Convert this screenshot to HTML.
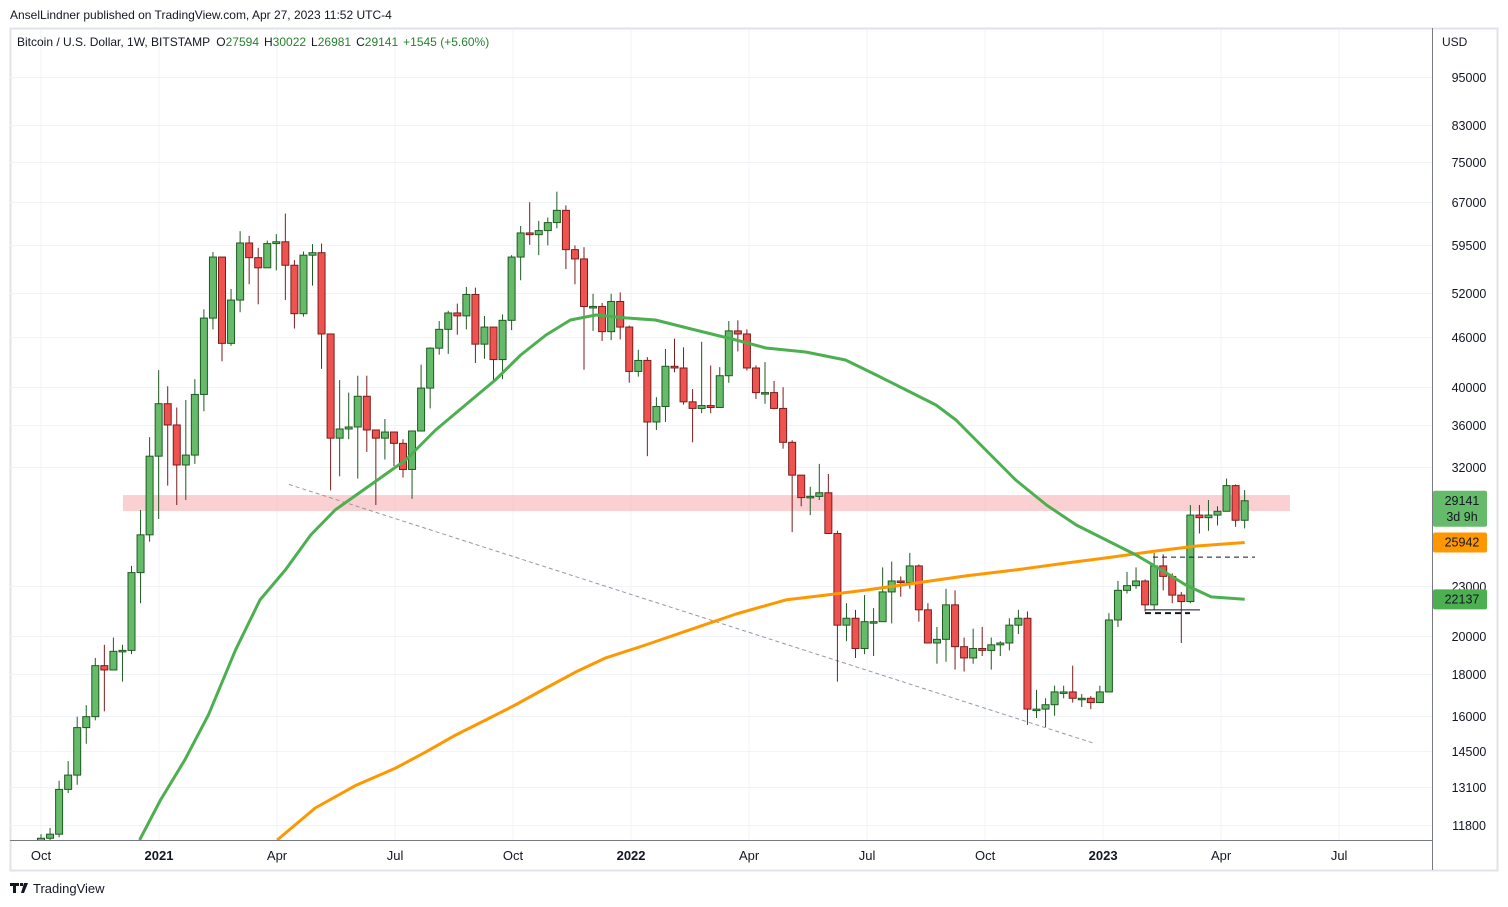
<!DOCTYPE html>
<html><head><meta charset="utf-8"><style>
html,body{margin:0;padding:0;background:#fff;width:1508px;height:907px;overflow:hidden;font-family:"Liberation Sans",sans-serif;}
svg text{font-family:"Liberation Sans",sans-serif;}
</style></head><body>
<svg id="c" width="1508" height="907" xmlns="http://www.w3.org/2000/svg">
<text x="10" y="19" font-size="12" fill="#131722">AnselLindner published on TradingView.com, Apr 27, 2023 11:52 UTC-4</text>
<rect x="10.5" y="28.5" width="1487" height="842" fill="none" stroke="#e0e3eb" stroke-width="2"/>
<g id="grid"></g>
<g id="marks"></g>
<line x1="1432.5" y1="28" x2="1432.5" y2="870" stroke="#787b86"/>
<line x1="10" y1="840.5" x2="1432" y2="840.5" stroke="#787b86"/>
<text x="17" y="46" font-size="12" fill="#131722">Bitcoin / U.S. Dollar, 1W, BITSTAMP <tspan dx="3">O</tspan><tspan fill="#26802f">27594</tspan><tspan dx="5">H</tspan><tspan fill="#26802f">30022</tspan><tspan dx="5">L</tspan><tspan fill="#26802f">26981</tspan><tspan dx="5">C</tspan><tspan fill="#26802f">29141</tspan><tspan dx="5" fill="#26802f">+1545 (+5.60%)</tspan></text>
<text x="1442" y="46" font-size="12" fill="#131722">USD</text>
<g id="axes"></g>
<g transform="translate(10,883)">
<path d="M0 0h9v3h-3v7h-3v-7h-3z M10 0h3v3h-3z M14 0h4l-4 10h-3z" fill="#131722"/>
<text x="23" y="10" font-size="13" fill="#131722">TradingView</text>
</g>
</svg>
<script>
// weekly candles starting week of 2020-10-05
const opens0 = 10670;
const closes = [11370,11500,13030,13560,15480,15960,18400,18180,19150,19200,23850,26500,33000,
38200,36000,32200,33100,39200,48500,57500,45200,51000,59800,57400,55800,59700,60000,56200,49100,57800,58200,46400,34700,35600,35800,39000,35500,34700,35300,34200,31800,35400,39900,44600,47000,49200,48800,51800,45100,47300,43200,48200,57500,61500,61200,61900,63300,65500,58700,57200,50100,50100,46700,50800,47300,
41800,43100,36300,37900,42400,42200,38400,37700,38000,37800,41300,46800,46400,42200,39400,39400,37700,34300,31300,29400,29500,29800,26600,20600,21000,19300,20800,20800,22600,23300,23200,24300,21500,19600,19800,21800,19400,18800,19300,19200,19500,19600,20600,21000,16300,16300,16500,17100,17100,16800,16800,16600,
17100,20900,22700,23000,23300,21800,24300,23600,22400,22000,28000,27800,28000,28300,30400,27600,29141];
const highs = [11500,11700,13350,14100,15960,16480,18800,19500,19900,19500,24300,28400,34800,
41950,40100,37800,38600,40900,49700,58300,57000,52600,61800,61000,59000,60200,61300,64900,57000,58400,59600,59700,45900,40800,39400,41300,41300,35500,36600,35000,34600,35400,42600,44700,48100,49500,50500,52900,52800,48800,45500,49000,57800,62700,67000,63600,64200,69000,66400,59400,59100,51900,50600,51900,52100,
47500,44400,43500,38900,44500,45800,44700,39800,45400,42500,42300,48100,48200,47000,42500,42900,40700,40000,34500,31300,30300,32300,31400,26800,21900,21500,22400,21600,24200,24600,23600,25200,24400,21900,20500,22800,22700,19900,20400,20500,19900,19700,21000,21500,21400,17200,16800,17400,17400,18400,17000,16900,
17400,21300,23300,23900,24200,23400,25200,25100,23800,22600,28800,28800,29200,28700,31000,30500,30022];
const lows = [10530,11200,11400,12900,13200,14800,15800,16200,18200,17600,19000,21900,26000,
27700,30400,28800,29200,32300,37400,47000,43000,44900,49300,53300,50400,56500,55400,51000,47100,48700,53100,42100,30000,31200,34600,31000,33400,28800,32700,32100,31100,29300,35700,37700,43800,43900,46300,47000,42800,43300,40600,40900,46900,53900,59500,57800,59400,62300,55600,53300,42000,46800,45500,45600,45700,
40500,41200,33000,35500,36300,41700,38100,34300,37200,37200,38100,40500,44200,41900,38700,38200,37600,33700,26700,28700,28000,29200,26600,17600,19700,18800,19000,18900,20800,20700,22300,22800,20800,19600,18500,18600,18200,18100,18500,18900,18200,18900,19200,20100,15600,15900,15500,16000,16800,16600,16400,16300,
16600,17300,20500,22500,22800,21400,21500,22700,21900,19600,21900,26600,26800,27200,28300,27100,26981];
// moving averages (week index, value)
const maFastWeeks = [10.9,13.2,15.9,18.5,21.5,24.2,27,29.8,32.5,36.4,40.3,43.6,46.9,50.2,53,55.8,58.5,61.3,64.6,67.9,72.3,76.8,80.1,84.5,88.9,92.3,95.6,98.9,101.1,104.4,107.7,111.1,114.4,117.7,121,123.8,126.5,129.3,133];
const maFastVals = [11315,12650,14150,16040,19230,22100,24030,26490,28400,30450,32650,35500,38060,40810,43760,46270,48240,48920,48520,48240,46910,45630,44620,44130,43150,41380,39690,38060,36500,33570,30880,28800,27240,26120,25050,24030,23040,22290,22137];
const maSlowWeeks = [26.1,30.3,34.7,39.2,42.5,45.8,49.1,52.4,55.8,59.1,62.4,66.8,72.3,76.8,82.3,86.7,91.2,96.7,102.2,107.7,113.3,117.7,123.2,127.7,133];
const maSlowVals = [11315,12370,13160,13830,14460,15160,15810,16490,17290,18080,18800,19490,20440,21250,22100,22400,22720,23170,23630,24030,24500,24850,25330,25690,25942];
const priceTicks = [95000,83000,75000,67000,59500,52000,46000,40000,36000,32000,23000,20000,18000,16000,14500,13100,11800];
const timeLabels = ["Oct","2021","Apr","Jul","Oct","2022","Apr","Jul","Oct","2023","Apr","Jul"];
const timeLabelWeeks = [0,13.04,26.08,39.12,52.16,65.2,78.24,91.28,104.32,117.36,130.4,143.44];
const zoneTop = 29610, zoneBottom = 28320;
const trendStart = [27.4, 30500], trendEnd = [116.5, 14800];
const levelHigh = 24900, levelLow = [21500, 21300];

const NS="http://www.w3.org/2000/svg";
const X0=41, DX=9.05, PLOT_L=10, PLOT_R=1432, PLOT_T=29, PLOT_B=840;
function xs(i){return X0+i*DX;}
function ys(p){return 77+(Math.log(95000)-Math.log(p))*358.6;}
function el(tag,attrs,parent){const e=document.createElementNS(NS,tag);for(const k in attrs)e.setAttribute(k,attrs[k]);parent.appendChild(e);return e;}
const grid=document.getElementById('grid'), marks=document.getElementById('marks'), axes=document.getElementById('axes');

const defs=el('defs',{},document.getElementById('c'));
const cp=el('clipPath',{id:'pc'},defs);
el('rect',{x:PLOT_L,y:PLOT_T,width:PLOT_R-PLOT_L,height:PLOT_B-PLOT_T},cp);
marks.setAttribute('clip-path','url(#pc)');

priceTicks.forEach(p=>{
  const y=Math.round(ys(p))+0.5;
  const g=el('line',{x1:PLOT_L,x2:PLOT_R,y1:y,y2:y,stroke:'#f0f3fa'},grid);
  
  
  const t=el('text',{x:1469,y:y+4.5,'font-size':12.5,fill:'#131722','text-anchor':'middle'},axes);
  t.textContent=p;
  
  
});
timeLabels.forEach((s,k)=>{
  const x=xs(timeLabelWeeks[k]);
  const g=el('line',{x1:x,x2:x,y1:PLOT_T,y2:PLOT_B,stroke:'#f0f3fa'},grid);
  
  
  const bold=/^\d/.test(s);
  const t=el('text',{x:x,y:860,'font-size':13,fill:'#131722','text-anchor':'middle','font-weight':bold?'bold':'normal'},axes);
  t.textContent=s;
  
  
});

const z=el('rect',{x:123,y:ys(zoneTop),width:1167,height:ys(zoneBottom)-ys(zoneTop),fill:'#f7a9ae',opacity:0.55},marks);


const tl=el('line',{x1:xs(trendStart[0]),y1:ys(trendStart[1]),x2:xs(trendEnd[0]),y2:ys(trendEnd[1]),stroke:'#9598a1','stroke-dasharray':'4 3'},marks);



closes.forEach((c,i)=>{
  const o=i===0?opens0:closes[i-1];
  const up=c>=o, x=xs(i);
  const g=el('g',{},marks);
  
  
  const stroke=up?'#1e5a22':'#7a1d1d';
  el('line',{x1:x,x2:x,y1:ys(highs[i]),y2:ys(lows[i]),stroke:stroke,'stroke-width':1},g);
  const yt=ys(Math.max(o,c)), yb=ys(Math.min(o,c));
  el('rect',{x:x-3.5,y:yt,width:7,height:Math.max(1.5,yb-yt),fill:up?'#66bb6a':'#ef5350',stroke:stroke,'stroke-width':1},g);
});

function line(ws,vs,color,name){
  const d=ws.map((w,k)=>(k?'L':'M')+xs(w).toFixed(1)+' '+ys(vs[k]).toFixed(1)).join(' ');
  const p=el('path',{d:d,fill:'none',stroke:color,'stroke-width':3,'stroke-linejoin':'round'},marks);
  
  
}
line(maSlowWeeks,maSlowVals,'#ff9800','ma-slow-line');
line(maFastWeeks,maFastVals,'#4caf50','ma-fast-line');

const l1=el('line',{x1:1153,x2:1255,y1:ys(levelHigh),y2:ys(levelHigh),stroke:'#131722','stroke-dasharray':'5 4'},marks);


const l2=el('line',{x1:1145,x2:1200,y1:ys(levelLow[0]),y2:ys(levelLow[0]),stroke:'#131722'},marks);


const l3=el('line',{x1:1145,x2:1190,y1:ys(levelLow[1]),y2:ys(levelLow[1]),stroke:'#131722','stroke-dasharray':'6 4','stroke-width':2},marks);



function tag(y,h,fill,lines,name){
  const g=el('g',{},axes);
  
  
  el('rect',{x:1433,y:y,width:54,height:h,fill:fill,rx:2},g);
  lines.forEach((s,k)=>{const t=el('text',{x:1462,y:y+14+k*16,'font-size':12.5,fill:'#131722','text-anchor':'middle'},g);t.textContent=s;});
}
const lastClose=closes[closes.length-1];
tag(ys(lastClose)-10,36,'#66bb6a',[String(lastClose),'3d 9h'],'last-price-label');
tag(ys(maSlowVals[maSlowVals.length-1])-10,20,'#ff9800',[String(maSlowVals[maSlowVals.length-1])],'ma-slow-label');
tag(ys(maFastVals[maFastVals.length-1])-10,20,'#4caf50',[String(maFastVals[maFastVals.length-1])],'ma-fast-label');
</script>
</body></html>
